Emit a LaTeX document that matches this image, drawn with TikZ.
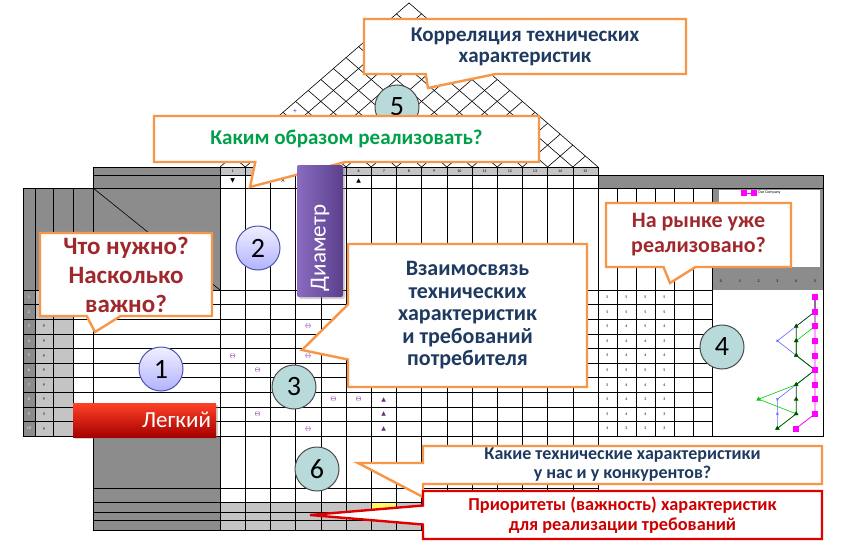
\documentclass[tikz,border=0pt]{standalone}
\usepackage{fontspec}
\setmainfont{Carlito}
\newfontfamily\symfont{DejaVu Sans}
\usetikzlibrary{shapes.callouts,shadows,plotmarks}

\definecolor{noteorange}{HTML}{F79646}
\definecolor{notenavy}{HTML}{1F3A60}
\definecolor{notegreen}{HTML}{00A04A}
\definecolor{notewine}{HTML}{A0282D}
\definecolor{notered}{HTML}{E00000}
\definecolor{tabdark}{HTML}{8C8C8C}
\definecolor{tablight}{HTML}{C4C4C4}
\definecolor{relpurple}{HTML}{8E44AD}
\definecolor{numteal}{HTML}{B9DADB}
\definecolor{ourmag}{HTML}{FF00FF}
\definecolor{diamlight}{HTML}{8A6CC0}
\definecolor{diamdark}{HTML}{5B3F8C}

\tikzset{
  grid/.style={line width=0.6pt},
  note/.style={rectangle callout, draw=noteorange, line width=2.4pt, fill=white,
    align=center, inner sep=2pt},
  num/.style={circle, draw=black!70, line width=1pt, fill=numteal, minimum size=44pt,
    inner sep=0pt, font=\fontsize{28}{28}\selectfont},
  numblue/.style={num, draw=blue!35!gray, top color=blue!6, bottom color=blue!30!white},
  strong/.style={text=relpurple, font=\fontsize{7}{7}\selectfont, inner sep=0pt},
  tri/.style={text=relpurple!70!black, font=\symfont\fontsize{6}{6}\selectfont, inner sep=0pt},
  tiny/.style={font=\fontsize{4}{4}\selectfont, inner sep=0pt}
}

\begin{document}
\begin{tikzpicture}[x=1pt,y=-1pt]
\useasboundingbox (0,0) rectangle (852,549);
\fill[white] (0,0) rectangle (852,549);

% grey blocks of the house
\fill[tabdark] (93,167) rectangle (220,188);
\fill[tabdark] (23,188) rectangle (220,290);
\fill[tabdark] (23,290) rectangle (35,436);
\fill[tablight] (35,290) rectangle (73,436);
\fill[tablight] (220,167) rectangle (598,175);
\fill[tabdark] (93,436) rectangle (220,530);
\fill[tablight] (220,502) rectangle (598,530);
\fill[yellow!60] (371.2,503) rectangle (396.4,511);
\fill[tabdark] (598,175) rectangle (823,188);
\fill[tabdark] (712,188) rectangle (823,290);
\fill[white] (719,190) rectangle (820,267);

% grid lines
\draw[grid] (93,167) -- (598,167);
\draw[grid] (93,175) -- (823,175);
\draw[grid] (23,188) -- (823,188);
\draw[grid] (93,188) -- (220,290);
\foreach \r in {0,...,10}
  \draw[grid] (23,290+14.6*\r) -- (712,290+14.6*\r);
\foreach \y in {488,502,512,520,530}
  \draw[grid] (93,\y) -- (598,\y);
\foreach \x in {23,35,53,73}
  \draw[grid] (\x,188) -- (\x,436);
\draw[grid] (93,167) -- (93,530);
\foreach \c in {0,...,15}
  \draw[grid] (220+25.2*\c,167) -- (220+25.2*\c,530);
\foreach \i in {0,...,6}
  \draw[grid] (598+19*\i,188) -- (598+19*\i,436);
\draw[grid] (823,175) -- (823,436) -- (712,436);
\draw[line width=1pt] (712,188) -- (712,436);

% roof
\foreach \c in {0,...,15} {
  \pgfmathsetmacro\xb{220+25.2*\c}
  \draw[grid] (\xb,167) -- ({\xb+(598-\xb)/2},{167-0.868*(598-\xb)/2});
  \draw[grid] (\xb,167) -- ({\xb-(\xb-220)/2},{167-0.868*(\xb-220)/2});
}
\node[text=blue!60!magenta, font=\fontsize{7}{7}\selectfont] (plus) at (295,112) {+};

% header row marks
\foreach \c in {1,...,15}
  \node[tiny] (col\c) at (207.4+25.2*\c,171) {\c};
\node[tri, text=black] (dir1) at (232.6,181) {▼};
\node[tri, text=black] (dir3) at (283,181) {×};
\node[tri, text=black] (dir6) at (358.6,181) {▲};

% row numbers and importance
\foreach \r/\w in {1/9,2/9,3/9,4/9,5/9,6/9,7/9,8/9,9/3,10/9} {
  \node[tiny, text=white] (rn\r) at (29,282.7+14.6*\r) {\r};
  \node[tiny] (imp\r) at (44,282.7+14.6*\r) {\w};
}

% relationships
\foreach \c/\r in {4/3,1/5,4/5,2/6,5/8,6/8,2/9,4/10}
  \node[strong] (rel\c\r) at (207.4+25.2*\c,282.7+14.6*\r) {$\Theta$};
\foreach \r in {8,9,10}
  \node[tri] (tri\r) at (383.8,282.7+14.6*\r) {▲};

% competitor ratings
\foreach \r/\a/\b/\c/\d in {1/5/5/5/5,2/5/5/5/5,3/5/4/5/4,4/5/4/4/3,5/5/4/4/4,
    6/5/5/5/5,7/5/4/4/4,8/5/4/3/3,9/5/4/4/3,10/4/3/3/3} {
  \node[tiny] (ca\r) at (607.5,282.7+14.6*\r) {\a};
  \node[tiny] (cb\r) at (626.5,282.7+14.6*\r) {\b};
  \node[tiny] (cc\r) at (645.5,282.7+14.6*\r) {\c};
  \node[tiny] (cd\r) at (664.5,282.7+14.6*\r) {\d};
}

% chart
\foreach \v in {0,...,5}
  \node[tiny] (tick\v) at (721+18.8*\v,281) {\v};
\draw[blue!60, line width=0.6pt, mark=x, mark size=1.5pt] plot coordinates {
  (815,297) (815,311.6) (796.2,326.2) (777.4,340.8) (796.2,355.4) (815,370)
  (796.2,384.6) (777.4,399.2) (777.4,413.8) (777.4,428.4)};
\draw[green!80!black, line width=0.6pt, mark=triangle*, mark size=2pt] plot coordinates {
  (815,297) (815,311.6) (815,326.2) (796.2,340.8) (796.2,355.4) (815,370)
  (796.2,384.6) (758.6,399.2) (796.2,413.8) (777.4,428.4)};
\draw[black!70!green, line width=0.6pt, mark=triangle*, mark size=2pt] plot coordinates {
  (815,297) (815,311.6) (796.2,326.2) (796.2,340.8) (796.2,355.4) (815,370)
  (796.2,384.6) (796.2,399.2) (796.2,413.8) (777.4,428.4)};
\draw[ourmag, line width=0.8pt, mark=square*, mark size=2.5pt] plot coordinates {
  (815,297) (815,311.6) (815,326.2) (815,340.8) (815,355.4) (815,370)
  (815,384.6) (815,399.2) (815,413.8) (796.2,428.4)};
\draw[ourmag, line width=0.8pt, mark=square*, mark size=2.5pt] plot coordinates {(744,193) (754,193)};
\node[tiny, anchor=west] (legend) at (758,193) {Our Company};

% callouts and markers
\node[num] (n5) at (397,107) {5};
\node[note, font=\bfseries\fontsize{21}{21}\selectfont, text=notenavy,
  minimum width=322pt, minimum height=55pt, callout pointer width=70pt,
  callout absolute pointer={(428,88)}] (corr) at (525,46.5)
  {Корреляция технических\\характеристик};
\node[note, font=\bfseries\fontsize{21}{22}\selectfont, text=notegreen,
  minimum width=385pt, minimum height=46pt, callout pointer width=90pt,
  callout absolute pointer={(250,187)}] (how) at (346.5,139)
  {Каким образом реализовать?};
\node[rotate=90, minimum width=132pt, minimum height=46pt, rounded corners=2pt,
  left color=diamlight, right color=diamdark,
  text=white, font=\fontsize{23}{23}\selectfont, text width=120pt, align=left,
  drop shadow={opacity=0.35, shadow xshift=2pt, shadow yshift=-2pt}] (diam) at (320,231) {Диаметр};
\node[numblue] (n2) at (258,248) {2};
\node[note, font=\bfseries\fontsize{25}{29}\selectfont, text=notewine,
  minimum width=172pt, minimum height=83pt, callout pointer width=34pt,
  callout absolute pointer={(95,332)}] (what) at (126,274.5)
  {Что нужно?\\Насколько\\важно?};
\node[note, font=\bfseries\fontsize{22}{22.5}\selectfont, text=notenavy,
  minimum width=239pt, minimum height=143pt, callout pointer width=55pt,
  callout absolute pointer={(302,350)}] (link) at (467.5,315.5)
  {Взаимосвязь\\технических\\характеристик\\и требований\\потребителя};
\node[numblue] (n1) at (161,369) {1};
\node[top color=red!75!orange!85!white, bottom color=red!65!black, minimum width=143pt,
  minimum height=34pt, text=white, font=\fontsize{23}{23}\selectfont,
  text width=133pt, align=right,
  drop shadow={opacity=0.35, shadow xshift=2pt, shadow yshift=-2pt}] (easy) at (144.5,420) {Легкий};
\node[num] (n3) at (294,387) {3};
\node[note, font=\bfseries\fontsize{22}{25}\selectfont, text=notewine,
  minimum width=185pt, minimum height=64pt, callout pointer width=32pt,
  callout absolute pointer={(670,283)}] (market) at (698.5,235)
  {На рынке уже\\реализовано?};
\node[num] (n4) at (722,347) {4};
\node[note, font=\bfseries\fontsize{18}{19}\selectfont, text=notenavy,
  minimum width=399pt, minimum height=38pt, callout pointer width=34pt,
  callout absolute pointer={(358,463)}] (tech) at (622.5,465)
  {Какие технические характеристики\\у нас и у конкурентов?};
\node[num] (n6) at (317,469) {6};
\node[note, draw=notered, font=\bfseries\fontsize{18.3}{20}\selectfont, text=red!80!black,
  minimum width=399pt, minimum height=48pt, callout pointer width=19pt,
  callout absolute pointer={(310,515)}] (prio) at (622.5,515)
  {Приоритеты (важность) характеристик\\для реализации требований};
\end{tikzpicture}
\end{document}
